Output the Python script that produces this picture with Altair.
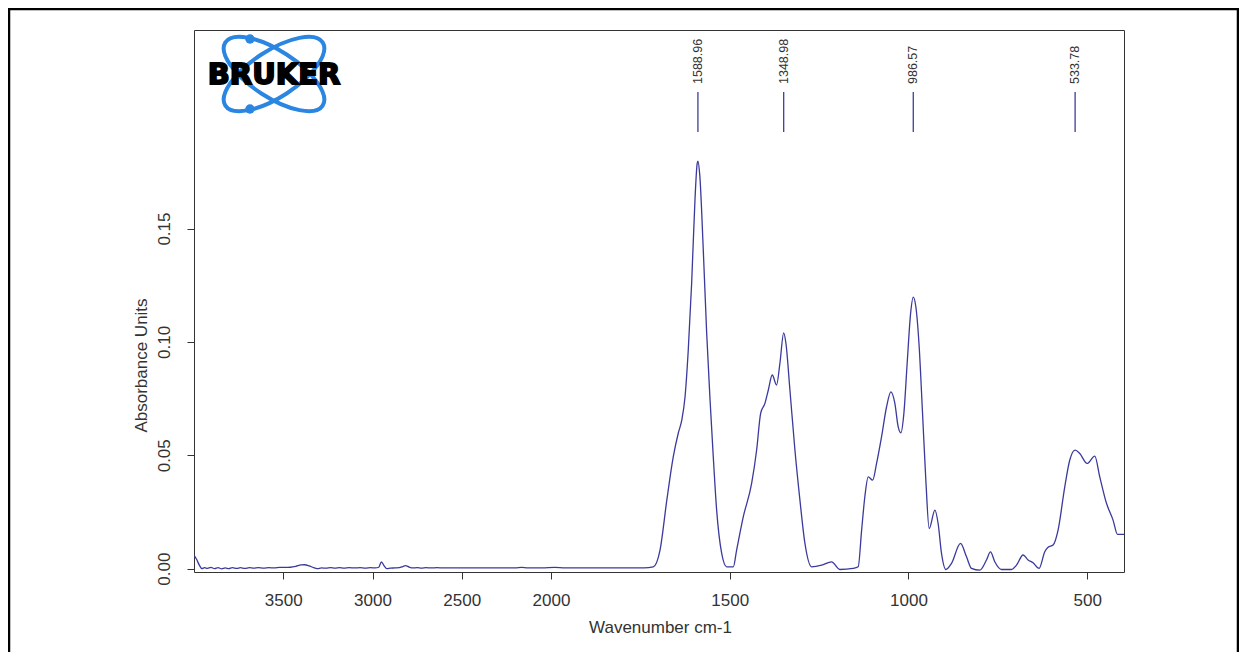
import altair as alt
import pandas as pd

# ---------------- data ----------------
wavenumber = [
    4000, 3985, 3970, 3956, 3940, 3925, 3905, 3885, 3865, 3845, 3825, 3805, 3785, 3760,
    3740, 3715, 3690, 3665, 3640, 3610, 3580, 3550, 3520, 3490, 3460, 3430, 3400, 3380,
    3355, 3330, 3310, 3285, 3260, 3235, 3210, 3185, 3160, 3130, 3100, 3070, 3040, 3010,
    2985, 2965, 2950, 2935, 2920, 2900, 2875, 2850, 2830, 2815, 2795, 2775, 2750, 2725,
    2700, 2670, 2640, 2600, 2550, 2500, 2450, 2400, 2350, 2300, 2250, 2200, 2165, 2130,
    2050, 1990, 1960, 1900, 1800, 1740, 1714,
    1695, 1676, 1658, 1644, 1634, 1625, 1616, 1606.5, 1597, 1591, 1589, 1584, 1574,
    1564.5, 1555, 1546, 1536.6, 1522.6, 1508.6, 1490, 1480.7, 1462, 1438.7, 1424.7,
    1413.5, 1401.5, 1392, 1381, 1369, 1359.6, 1349, 1342.8, 1331.6, 1317.6, 1303.6,
    1289.6, 1271, 1243, 1215, 1192, 1155, 1140.6, 1131, 1122, 1112.6, 1100.3, 1089.2,
    1075.2, 1061.2, 1049.2, 1038, 1028.8, 1021.2, 1012.8, 1003.6, 994, 986.6, 979.3,
    970, 960.6, 951.4, 942, 926, 917, 907.5, 895.5, 879.5, 854.4, 837.6, 823.6, 800.4,
    781.7, 770.5, 758.5, 739.7, 711.8, 697.8, 679.3, 665.4, 651.4, 634.6, 618.6, 609.4,
    595.4, 581.4, 562.7, 548.7, 533.8, 520.7, 500.3, 478.8, 464.8, 446, 427.6, 415.3,
    397,
]
absorbance = [
    0.0060, 0.0040, 0.0015, 0.0000, 0.0004, 0.0001, 0.0005, 0.0000, 0.0004, -0.0001,
    0.0003, 0.0000, 0.0004, 0.0001, 0.0004, 0.0001, 0.0004, 0.0002, 0.0004, 0.0002,
    0.0004, 0.0003, 0.0005, 0.0005, 0.0006, 0.0010, 0.0016, 0.0017, 0.0012, 0.0004,
    0.0000, 0.0003, 0.0002, 0.0004, 0.0002, 0.0004, 0.0002, 0.0004, 0.0003, 0.0004,
    0.0002, 0.0004, 0.0003, 0.0006, 0.0030, 0.0012, 0.0000, 0.0002, 0.0003, 0.0004,
    0.0009, 0.0013, 0.0007, 0.0003, 0.0004, 0.0002, 0.0004, 0.0003, 0.0004, 0.0003,
    0.0003, 0.0003, 0.0003, 0.0003, 0.0003, 0.0003, 0.0003, 0.0003, 0.0005, 0.0003,
    0.0003, 0.0005, 0.0003, 0.0003, 0.0003, 0.0003, 0.0008,
    0.0082, 0.0302, 0.0493, 0.0597, 0.0656, 0.0758, 0.0964, 0.1260, 0.1635, 0.1788,
    0.1797, 0.1740, 0.1406, 0.1039, 0.0743, 0.0493, 0.0258, 0.0068, 0.0008, 0.0008,
    0.0082, 0.0229, 0.0376, 0.0523, 0.0685, 0.0729, 0.0788, 0.0854, 0.0810, 0.0906,
    0.1040, 0.0994, 0.0788, 0.0523, 0.0302, 0.0111, 0.0008, 0.0015, 0.0030, -0.0004,
    0.0001, 0.0008, 0.0170, 0.0317, 0.0405, 0.0390, 0.0464, 0.0582, 0.0714, 0.0780,
    0.0729, 0.0626, 0.0599, 0.0685, 0.0906, 0.1126, 0.1198, 0.1155, 0.0979, 0.0685,
    0.0391, 0.0177, 0.0258, 0.0199, 0.0067, -0.0004, 0.0023, 0.0111, 0.0052, 0.0001,
    -0.0007, 0.0038, 0.0074, 0.0030, -0.0004, -0.0004, 0.0015, 0.0060, 0.0038, 0.0026,
    0.0001, 0.0074, 0.0094, 0.0104, 0.0170, 0.0361, 0.0479, 0.0523, 0.0508, 0.0464,
    0.0496, 0.0405, 0.0288, 0.0214, 0.0151, 0.0151,
]
peak_positions = [1588.96, 1348.98, 986.57, 533.78]
peak_labels = ["1588.96", "1348.98", "986.57", "533.78"]
x_ticks = [3500, 3000, 2500, 2000, 1500, 1000, 500]
y_ticks = [0.0, 0.05, 0.10, 0.15]
x_title = "Wavenumber cm-1"
y_title = "Absorbance Units"
logo_text = "BRUKER"

# ---------------- chart ----------------
W, H = 930, 542
PAD_L, PAD_T, PAD_R, PAD_B = 186, 22, 115, 80
FONT = "Liberation Sans"
TXT = "#333333"
LINE = "#3a3a9c"
BLUE = "#2a86e0"

spec = pd.DataFrame({"wn": wavenumber, "a": absorbance})
peaks = pd.DataFrame({"wn": peak_positions, "label": peak_labels})
one = pd.DataFrame({"k": [0]})

xscale = alt.Scale(domain=[4000, 2000, 397], range=[0, 357, W], nice=False, zero=False)
yscale = alt.Scale(domain=[-0.0015, 0.2376], nice=False, zero=False)

xaxis = alt.Axis(
    values=x_ticks, format="d", title=x_title, domain=False, grid=False,
    tickSize=7, tickColor=TXT, labelFont=FONT, labelFontSize=17, labelColor=TXT,
    labelBaseline="alphabetic", labelPadding=26, labelFlush=False, labelOverlap=False,
    titleFont=FONT, titleFontSize=17, titleFontWeight="normal", titleColor=TXT,
    titleX=466, titleY=60, titleAlign="center", titleBaseline="alphabetic",
)
yaxis = alt.Axis(
    values=y_ticks, format=".2f", title=y_title, domain=False, grid=False,
    tickSize=7, tickColor=TXT, labelFont=FONT, labelFontSize=17, labelColor=TXT,
    labelAngle=270, labelAlign="center", labelBaseline="alphabetic", labelPadding=18,
    labelFlush=False, labelOverlap=False,
    titleFont=FONT, titleFontSize=17, titleFontWeight="normal", titleColor=TXT,
    titleAngle=270, titleX=-48, titleY=335, titleAlign="center", titleBaseline="alphabetic",
)

X = alt.X("wn:Q", scale=xscale, axis=xaxis)

border = alt.Chart(one).mark_rect(
    fill="white", fillOpacity=0, stroke="black", strokeWidth=2.5
).encode(
    x=alt.value(-PAD_L + 1), x2=alt.value(W + PAD_R - 1),
    y=alt.value(-PAD_T + 1), y2=alt.value(H + PAD_B + 20)
)

line = alt.Chart(spec).mark_line(
    color=LINE, strokeWidth=1.3, interpolate="monotone", clip=True
).encode(
    x=X,
    y=alt.Y("a:Q", scale=yscale, axis=yaxis),
    order=alt.Order("wn:Q", sort="descending"),
)

peak_rules = alt.Chart(peaks).mark_rule(color="#2e2e8e", strokeWidth=1.2).encode(
    x=X, y=alt.value(62), y2=alt.value(102)
)
peak_text = alt.Chart(peaks).mark_text(
    angle=270, align="left", baseline="middle", font=FONT, fontSize=12.5, color=TXT
).encode(x=X, y=alt.value(54), text="label:N")

ellipse = ("M 1 0 C 1 0.221 0.552 0.40 0 0.40 C -0.552 0.40 -1 0.221 -1 0 "
           "C -1 -0.221 -0.552 -0.40 0 -0.40 C 0.552 -0.40 1 -0.221 1 0 Z")
orbit1 = alt.Chart(one).mark_point(
    shape=ellipse, size=13456, filled=False, stroke=BLUE, strokeWidth=4, opacity=1, angle=33
).encode(x=alt.value(80), y=alt.value(44))
orbit2 = alt.Chart(one).mark_point(
    shape=ellipse, size=13456, filled=False, stroke=BLUE, strokeWidth=4, opacity=1, angle=327
).encode(x=alt.value(80), y=alt.value(44))
dot1 = alt.Chart(one).mark_point(
    shape="circle", size=90, filled=True, fill=BLUE, opacity=1
).encode(x=alt.value(56), y=alt.value(9))
dot2 = alt.Chart(one).mark_point(
    shape="circle", size=90, filled=True, fill=BLUE, opacity=1
).encode(x=alt.value(56), y=alt.value(79))
logo = alt.Chart(one).mark_text(
    text=logo_text, font="DejaVu Sans", fontWeight="bold", fontSize=29,
    color="black", stroke="black", strokeWidth=1.8, align="center", baseline="middle"
).encode(x=alt.value(80), y=alt.value(45))

chart = alt.layer(
    border, orbit1, orbit2, dot1, dot2, logo, line, peak_rules, peak_text
).properties(
    width=W, height=H,
    autosize=alt.AutoSizeParams(type="none"),
    padding={"left": PAD_L, "top": PAD_T, "right": PAD_R, "bottom": PAD_B},
    background="white",
).configure_view(stroke="#333333", strokeWidth=1)

chart.save("out.html", embed_options={"renderer": "svg", "actions": False})
